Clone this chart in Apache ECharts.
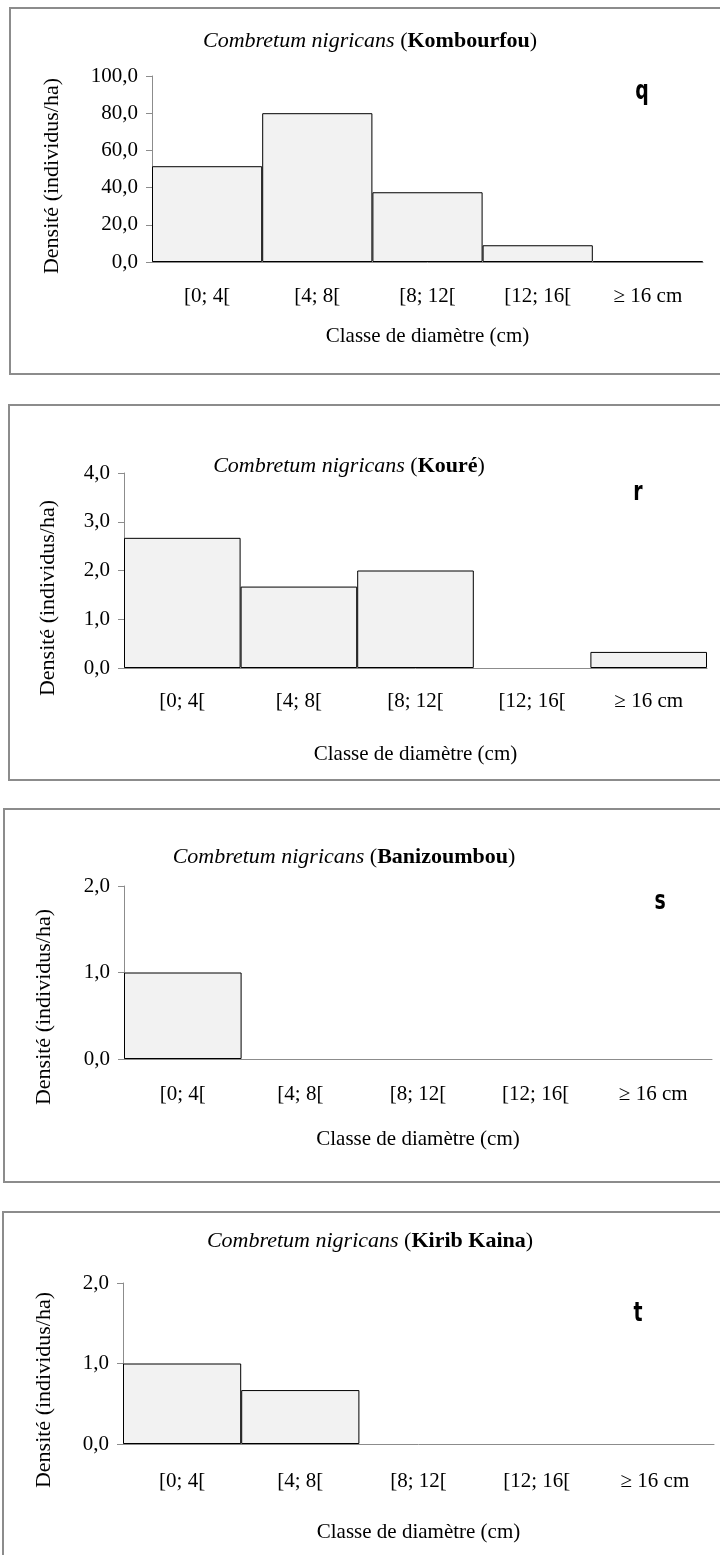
<!DOCTYPE html>
<html>
<head>
<meta charset="utf-8">
<script src="https://cdn.jsdelivr.net/npm/echarts@6/dist/echarts.min.js"></script>
<style>
  html, body { margin: 0; padding: 0; background: #fff; }
  #chart { width: 720px; height: 1555px; }
</style>
</head>
<body>
<div id="chart"></div>
<script>
// classes de diametre
var categories = ['[0; 4[', '[4; 8[', '[8; 12[', '[12; 16[', '\u2265 16 cm'];

var kombourfou = [51.5, 80.0, 37.5, 9.0, 0.5];
var koure = [2.67, 1.67, 2.0, 0, 0.33];
var banizoumbou = [1.0, 0, 0, 0, 0];
var kiribKaina = [1.0, 0.67, 0, 0, 0];

var sites = ['Kombourfou', 'Kour\u00e9', 'Banizoumbou', 'Kirib Kaina'];
var letters = ['q', 'r', 's', 't'];
var yMax = [100, 4, 2, 2];
var yStep = [20, 1, 1, 1];

var allData = [kombourfou, koure, banizoumbou, kiribKaina];

// mise en page de chaque panneau
var panels = [
    { box: [10, 8, 720, 366],   grid: [152, 76, 551, 186],   title: [370, 41],   letter: [642, 92],   yName: [52, 176],   labelMargin: 24, nameGap: 64 },
    { box: [9, 405, 720, 375],  grid: [124, 473, 583, 195],  title: [349, 466],  letter: [638, 493],  yName: [48, 598],   labelMargin: 23, nameGap: 76 },
    { box: [4, 809, 720, 373],  grid: [124, 886, 588, 173],  title: [344, 857],  letter: [660, 902],  yName: [44, 1007],  labelMargin: 25, nameGap: 70 },
    { box: [3, 1212, 720, 400], grid: [123, 1283, 591, 161], title: [370, 1241], letter: [638, 1314], yName: [44, 1390],  labelMargin: 27, nameGap: 78 }
];

var serif = "'Liberation Serif', 'Times New Roman', serif";
var fs = 21;

function fmt(v) {
    return v.toFixed(1).replace('.', ',');
}

var grids = [], xAxes = [], yAxes = [], series = [], graphics = [];

panels.forEach(function (p, i) {
    grids.push({
        left: p.grid[0], top: p.grid[1], width: p.grid[2], height: p.grid[3],
        outerBoundsMode: 'none'
    });
    xAxes.push({
        type: 'category',
        gridIndex: i,
        data: categories,
        axisLine: { lineStyle: { color: '#8c8c8c', width: 1 } },
        axisTick: { show: false },
        axisLabel: { color: '#000', fontFamily: serif, fontSize: fs, margin: p.labelMargin },
        name: 'Classe de diam\u00e8tre (cm)',
        nameLocation: 'middle',
        nameGap: p.nameGap,
        nameTextStyle: { color: '#000', fontFamily: serif, fontSize: fs }
    });
    yAxes.push({
        type: 'value',
        gridIndex: i,
        min: 0,
        max: yMax[i],
        interval: yStep[i],
        splitLine: { show: false },
        axisLine: { show: true, lineStyle: { color: '#8c8c8c', width: 1 } },
        axisTick: { show: true, length: 6, lineStyle: { color: '#8c8c8c' } },
        axisLabel: { color: '#000', fontFamily: serif, fontSize: fs, margin: 14, formatter: fmt }
    });
    series.push({
        type: 'bar',
        xAxisIndex: i,
        yAxisIndex: i,
        barCategoryGap: 0,
        silent: true,
        data: allData[i].map(function (v) { return v === 0 ? null : v; }),
        itemStyle: { color: '#f2f2f2', borderColor: '#000', borderWidth: 1 }
    });

    // cadre du panneau
    graphics.push({
        type: 'rect',
        shape: { x: p.box[0], y: p.box[1], width: p.box[2], height: p.box[3] },
        style: { fill: null, stroke: '#8c8c8c', lineWidth: 2 },
        z: -1
    });
    // titre
    graphics.push({
        type: 'text',
        x: p.title[0], y: p.title[1],
        style: {
            text: '{i|Combretum nigricans} ({b|' + sites[i] + '})',
            align: 'center', verticalAlign: 'middle',
            fontFamily: serif, fontSize: 22, fill: '#000',
            rich: {
                i: { fontStyle: 'italic', fontFamily: serif, fontSize: 22 },
                b: { fontWeight: 'bold', fontFamily: serif, fontSize: 22 }
            }
        }
    });
    // lettre du panneau
    graphics.push({
        type: 'text',
        x: p.letter[0], y: p.letter[1],
        scaleX: 0.7,
        style: {
            text: letters[i],
            align: 'center', verticalAlign: 'middle',
            fontFamily: "'DejaVu Sans', sans-serif",
            fontWeight: 'bold', fontSize: 27, fill: '#000'
        }
    });
    // titre de l'axe des ordonnees
    graphics.push({
        type: 'text',
        x: p.yName[0], y: p.yName[1],
        rotation: Math.PI / 2,
        style: {
            text: 'Densit\u00e9 (individus/ha)',
            align: 'center', verticalAlign: 'middle',
            fontFamily: serif, fontSize: 22, fill: '#000'
        }
    });
});

var chart = echarts.init(document.getElementById('chart'), null, { renderer: 'canvas' });
chart.setOption({
    animation: false,
    backgroundColor: '#fff',
    grid: grids,
    xAxis: xAxes,
    yAxis: yAxes,
    series: series,
    graphic: graphics
});
</script>
</body>
</html>
